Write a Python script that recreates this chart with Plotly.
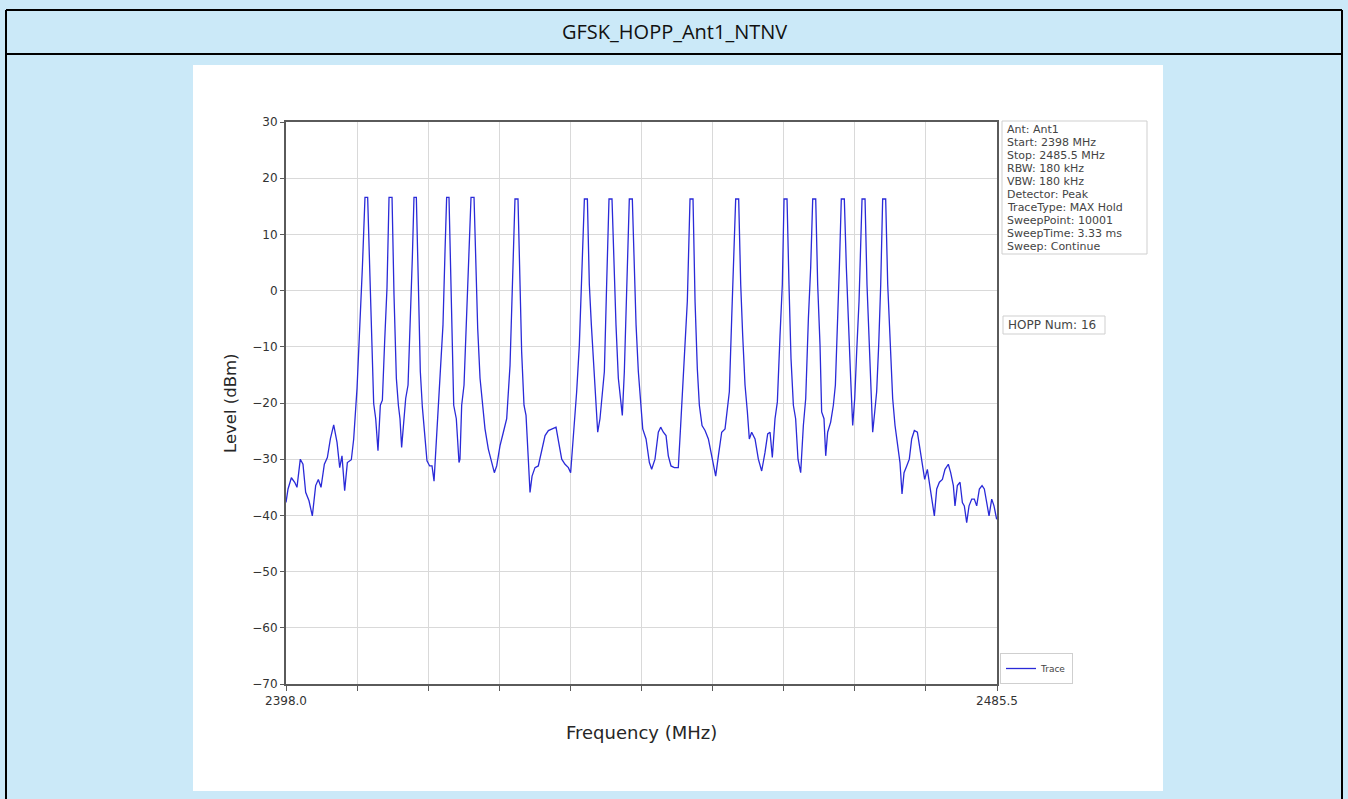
import plotly.graph_objects as go

# ---------------- data ----------------
freq_mhz = [
    2398.00, 2398.25, 2398.66, 2399.07, 2399.35, 2399.76, 2400.09, 2400.42, 2400.83, 2401.24,
    2401.65, 2401.98, 2402.31, 2402.72, 2403.09, 2403.46, 2403.87, 2404.28, 2404.61, 2404.89,
    2405.22, 2405.55, 2406.04, 2406.33, 2406.74, 2407.07, 2407.40, 2407.72, 2408.05, 2408.30,
    2408.54, 2408.79, 2409.04, 2409.32, 2409.61, 2409.86, 2410.14, 2410.43, 2410.68, 2411.05,
    2411.29, 2411.58, 2411.83, 2412.03, 2412.23, 2412.48, 2412.73, 2413.02, 2413.30, 2413.55,
    2413.75, 2414.04, 2414.29, 2414.53, 2414.78, 2415.07, 2415.35, 2415.68, 2415.97, 2416.22,
    2416.46, 2416.75, 2417.04, 2417.32, 2417.57, 2417.77, 2418.06, 2418.35, 2418.64, 2418.96,
    2419.29, 2419.41, 2419.62, 2419.91, 2420.15, 2420.40, 2420.77, 2421.14, 2421.38, 2421.59,
    2421.88, 2422.12, 2422.49, 2422.90, 2423.31, 2423.64, 2423.93, 2424.34, 2424.75, 2425.16,
    2425.57, 2425.90, 2426.18, 2426.55, 2426.80, 2427.00, 2427.29, 2427.54, 2427.82, 2428.03,
    2428.28, 2428.64, 2429.05, 2429.46, 2429.88, 2430.29, 2430.70, 2431.23, 2431.56, 2431.93,
    2432.34, 2432.75, 2433.03, 2433.36, 2433.77, 2434.10, 2434.43, 2434.72, 2435.09, 2435.33,
    2435.58, 2435.82, 2436.07, 2436.36, 2436.64, 2436.89, 2437.18, 2437.46, 2437.75, 2438.12,
    2438.37, 2438.61, 2438.90, 2439.15, 2439.39, 2439.64, 2439.93, 2440.25, 2440.62, 2440.87,
    2441.08, 2441.36, 2441.57, 2441.90, 2442.31, 2442.72, 2443.00, 2443.41, 2443.82, 2444.11,
    2444.44, 2444.77, 2445.05, 2445.38, 2445.79, 2446.28, 2446.57, 2446.82, 2447.10, 2447.39,
    2447.72, 2448.09, 2448.34, 2448.62, 2448.87, 2449.20, 2449.57, 2449.98, 2450.31, 2450.59,
    2450.88, 2451.21, 2451.62, 2452.03, 2452.32, 2452.56, 2452.85, 2453.14, 2453.34, 2453.71,
    2453.96, 2454.20, 2454.49, 2454.78, 2455.02, 2455.31, 2455.72, 2456.13, 2456.54, 2456.95,
    2457.28, 2457.57, 2457.85, 2458.18, 2458.47, 2458.80, 2459.08, 2459.29, 2459.66, 2459.90,
    2460.15, 2460.44, 2460.72, 2461.01, 2461.34, 2461.67, 2461.96, 2462.29, 2462.57, 2462.82,
    2463.19, 2463.43, 2463.72, 2463.92, 2464.21, 2464.42, 2464.66, 2465.03, 2465.36, 2465.61,
    2465.85, 2466.10, 2466.34, 2466.71, 2466.96, 2467.21, 2467.49, 2467.74, 2467.99, 2468.23,
    2468.52, 2468.89, 2469.26, 2469.50, 2469.75, 2469.99, 2470.20, 2470.45, 2470.69, 2470.94,
    2471.19, 2471.43, 2471.80, 2472.05, 2472.25, 2472.46, 2472.66, 2472.95, 2473.24, 2473.56,
    2473.81, 2474.06, 2474.39, 2474.71, 2475.00, 2475.33, 2475.70, 2476.03, 2476.36, 2476.60,
    2476.93, 2477.26, 2477.50, 2477.79, 2478.08, 2478.41, 2478.78, 2479.10, 2479.51, 2479.80,
    2480.13, 2480.33, 2480.62, 2480.95, 2481.24, 2481.48, 2481.77, 2482.06, 2482.39, 2482.71,
    2483.00, 2483.33, 2483.66, 2483.94, 2484.23, 2484.52, 2484.85, 2485.13, 2485.46,
]

level_dbm = [
    -37.7, -35.3, -33.3, -34.1, -35.0, -30.0, -30.9, -35.9, -37.4, -40.1,
    -34.7, -33.6, -35.0, -30.9, -29.7, -26.4, -23.9, -27.0, -31.5, -29.4,
    -35.6, -30.6, -30.1, -26.4, -17.4, -7.9, 4.1, 16.6, 16.6, 4.1,
    -9.7, -20.1, -22.8, -28.5, -20.4, -19.5, -9.1, 0.5, 16.6, 16.6,
    -0.7, -15.6, -20.4, -22.8, -27.9, -22.8, -19.2, -16.8, -5.5, 5.9,
    16.6, 16.6, 1.1, -14.4, -20.7, -25.5, -30.3, -31.2, -31.2, -33.9,
    -28.2, -21.0, -13.3, -6.1, 7.0, 16.6, 16.6, -3.7, -20.4, -22.8,
    -30.6, -30.0, -20.4, -16.8, -7.9, 4.1, 16.6, 16.6, 4.1, -6.7,
    -15.6, -19.2, -24.6, -28.2, -30.6, -32.4, -31.2, -27.6, -25.2, -22.8,
    -13.3, 1.1, 16.3, 16.3, 1.1, -10.9, -20.4, -22.2, -30.0, -35.9,
    -33.0, -31.5, -31.2, -28.8, -25.8, -24.9, -24.6, -24.3, -27.0, -30.0,
    -30.9, -31.5, -32.4, -26.4, -18.0, -9.7, 4.1, 16.3, 16.3, 1.1,
    -6.1, -12.1, -18.0, -25.2, -22.8, -19.2, -14.4, 1.1, 16.3, 16.3,
    3.5, -6.1, -15.6, -19.2, -22.2, -14.4, 1.1, 16.3, 16.3, 1.1,
    -6.1, -14.4, -18.0, -24.6, -26.4, -30.6, -31.8, -30.0, -25.2, -24.3,
    -25.2, -25.8, -29.4, -31.2, -31.5, -31.5, -24.0, -18.0, -9.7, -1.9,
    16.3, 16.3, -1.9, -13.9, -20.4, -24.0, -24.9, -26.4, -28.8, -31.5,
    -33.0, -29.4, -25.2, -24.6, -20.4, -18.0, -4.9, 7.0, 16.3, 16.3,
    1.1, -7.9, -16.8, -21.6, -26.4, -25.2, -26.4, -30.0, -32.1, -28.8,
    -25.5, -25.2, -29.7, -22.8, -19.8, -7.9, 1.1, 16.3, 16.3, 1.1,
    -12.1, -20.4, -22.8, -30.0, -32.4, -24.0, -19.2, -4.9, 4.1, 16.3,
    16.3, 1.1, -9.7, -21.6, -22.8, -29.4, -25.2, -23.4, -20.4, -16.8,
    -7.9, 4.1, 16.3, 16.3, 4.1, -6.7, -15.6, -24.0, -19.2, -10.9,
    -1.9, 16.3, 16.3, 1.1, -9.7, -19.8, -25.2, -21.6, -18.0, -9.7,
    1.1, 16.3, 16.3, 1.1, -6.1, -14.4, -19.2, -24.0, -27.0, -30.6,
    -36.2, -32.4, -31.2, -30.0, -26.4, -24.9, -25.2, -28.2, -31.2, -33.6,
    -31.8, -34.7, -36.8, -40.1, -35.3, -34.1, -33.6, -31.8, -30.9, -32.4,
    -34.7, -38.3, -34.7, -34.1, -37.7, -38.3, -41.3, -38.3, -37.1, -37.1,
    -38.3, -35.3, -34.7, -35.3, -37.7, -40.1, -37.1, -38.3, -40.7,
]

x_tick_vals = [2398.0, 2406.75, 2415.5, 2424.25, 2433.0, 2441.75,
               2450.5, 2459.25, 2468.0, 2476.75, 2485.5]
x_tick_text = ["2398.0", "", "", "", "", "", "", "", "", "", "2485.5"]
y_tick_vals = [30, 20, 10, 0, -10, -20, -30, -40, -50, -60, -70]

info_lines = ["Ant: Ant1", "Start: 2398 MHz", "Stop: 2485.5 MHz", "RBW: 180 kHz",
              "VBW: 180 kHz", "Detector: Peak", "TraceType: MAX Hold",
              "SweepPoint: 10001", "SweepTime: 3.33 ms", "Sweep: Continue"]
hopp_text = "HOPP Num: 16"
page_title = "GFSK_HOPP_Ant1_NTNV"

# ---------------- geometry helpers (pixel -> paper) ----------------
W, H = 1348, 799
L, R, T, B = 286, 997, 122, 684
def px(x):
    return (x - L) / (R - L)
def py(y):
    return (B - y) / (B - T)

fig = go.Figure()
fig.add_trace(go.Scatter(
    x=freq_mhz, y=level_dbm, mode="lines", name="Trace",
    line=dict(color="#2a2ad8", width=1.3),
))

shapes = [
    # white chart image area
    dict(type="rect", xref="paper", yref="paper", layer="below",
         x0=px(193), x1=px(1163), y0=py(791), y1=py(65),
         fillcolor="white", line=dict(width=0)),
    # page box borders
    dict(type="line", xref="paper", yref="paper", x0=px(6), x1=px(6), y0=py(10), y1=py(805),
         line=dict(color="black", width=2)),
    dict(type="line", xref="paper", yref="paper", x0=px(1342), x1=px(1342), y0=py(10), y1=py(805),
         line=dict(color="black", width=2)),
    dict(type="line", xref="paper", yref="paper", x0=px(6), x1=px(1342), y0=py(10), y1=py(10),
         line=dict(color="black", width=2)),
    dict(type="line", xref="paper", yref="paper", x0=px(6), x1=px(1342), y0=py(54), y1=py(54),
         line=dict(color="black", width=2)),
    # info box
    dict(type="rect", xref="paper", yref="paper",
         x0=px(1002), x1=px(1147), y0=py(254), y1=py(121),
         fillcolor="white", line=dict(color="#cfcfcf", width=1)),
    # hopp box
    dict(type="rect", xref="paper", yref="paper",
         x0=px(1003), x1=px(1105), y0=py(334), y1=py(316),
         fillcolor="white", line=dict(color="#cfcfcf", width=1)),
]

annotations = [
    dict(text=page_title, xref="paper", yref="paper", x=px(674), y=py(32),
         showarrow=False, xanchor="center", yanchor="middle",
         font=dict(family="Open Sans", size=20, color="#111111")),
    dict(text="Level (dBm)", xref="paper", yref="paper", x=px(230), y=py(403),
         showarrow=False, textangle=-90, xanchor="center", yanchor="middle",
         font=dict(family="DejaVu Sans", size=16.5, color="#262626")),
    dict(text="Frequency (MHz)", xref="paper", yref="paper", x=px(641), y=py(732),
         showarrow=False, xanchor="center", yanchor="middle",
         font=dict(family="DejaVu Sans", size=18, color="#262626")),
    dict(text=hopp_text, xref="paper", yref="paper", x=px(1006), y=py(325),
         showarrow=False, xanchor="left", yanchor="middle",
         font=dict(family="DejaVu Sans", size=12, color="#444444")),
]
for i, line in enumerate(info_lines):
    annotations.append(dict(
        text=line, xref="paper", yref="paper", x=px(1005), y=py(129.5 + 13.0 * i),
        showarrow=False, xanchor="left", yanchor="middle",
        font=dict(family="DejaVu Sans", size=11, color="#444444")))

fig.update_layout(
    width=W, height=H,
    margin=dict(l=L, r=W - R, t=T, b=H - B, pad=0),
    paper_bgcolor="#cbe9f8",
    plot_bgcolor="white",
    shapes=shapes,
    annotations=annotations,
    showlegend=True,
    legend=dict(x=px(1000), y=0.0, xanchor="left", yanchor="bottom",
                bgcolor="white", bordercolor="#cfcfcf", borderwidth=1,
                font=dict(family="DejaVu Sans", size=9, color="#444444"),
                itemwidth=30, tracegroupgap=0),
    font=dict(family="DejaVu Sans"),
)
fig.update_xaxes(
    range=[2398.0, 2485.5], tickmode="array", tickvals=x_tick_vals, ticktext=x_tick_text,
    showgrid=True, gridcolor="#d9d9d9", gridwidth=1, zeroline=False,
    showline=True, linecolor="#5a5a5a", linewidth=2, mirror=True,
    ticks="outside", ticklen=5, tickcolor="#5a5a5a", tickwidth=1,
    tickfont=dict(family="DejaVu Sans", size=12, color="#333333"),
)
fig.update_yaxes(
    range=[-70, 30], tickmode="array", tickvals=y_tick_vals,
    showgrid=True, gridcolor="#d9d9d9", gridwidth=1, zeroline=False,
    showline=True, linecolor="#5a5a5a", linewidth=2, mirror=True,
    ticks="outside", ticklen=4, tickcolor="#5a5a5a", tickwidth=1,
    tickfont=dict(family="DejaVu Sans", size=12, color="#333333"),
)

fig.write_html(
    "out.html",
    config={"displayModeBar": False},
    post_script="document.body.style.margin='0';document.body.style.overflow='hidden';"
                "document.body.style.background='#cbe9f8';",
)
